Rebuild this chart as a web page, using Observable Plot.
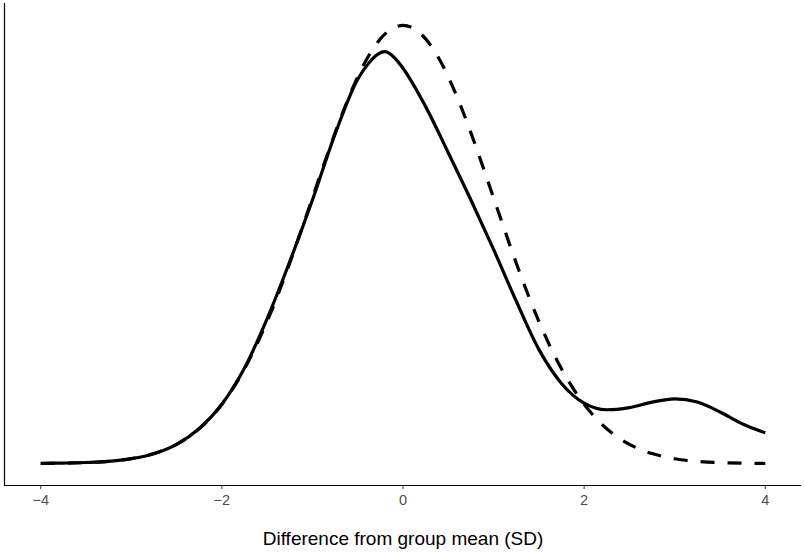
<!DOCTYPE html>
<html>
<head>
<meta charset="utf-8">
<script src="https://cdn.jsdelivr.net/npm/d3@7"></script>
<script src="https://cdn.jsdelivr.net/npm/@observablehq/plot@0.6"></script>
<style>
  html, body { margin: 0; padding: 0; background: #fff; }
  #chart svg { display: block; }
</style>
</head>
<body>
<div id="chart"></div>
<script>
const obsX = [-4.00,-3.75,-3.50,-3.25,-3.00,-2.75,-2.50,-2.25,-2.00,-1.75,-1.50,-1.25,-1.00,-0.75,-0.50,-0.375,-0.25,-0.20,-0.10,0.00,0.25,0.50,0.75,1.00,1.25,1.50,1.75,2.00,2.25,2.50,2.75,3.00,3.25,3.50,3.75,4.00];
const obsY = [0.0002,0.0005,0.001,0.002,0.0045,0.009,0.0175,0.032,0.054,0.087,0.132,0.184,0.240,0.300,0.350,0.365,0.374,0.375,0.370,0.360,0.325,0.283,0.240,0.195,0.148,0.104,0.073,0.055,0.049,0.051,0.056,0.059,0.056,0.047,0.036,0.028];

// Reference (dashed) density
const refX = [-4.00,-3.75,-3.50,-3.25,-3.00,-2.75,-2.50,-2.25,-2.00,-1.75,-1.50,-1.25,-1.00,-0.75,-0.50,-0.25,0.00,0.25,0.50,0.75,1.00,1.25,1.50,1.75,2.00,2.25,2.50,2.75,3.00,3.25,3.50,3.75,4.00];
const refY = [0.0001,0.0004,0.0009,0.002,0.0044,0.0091,0.0175,0.0317,0.054,0.0863,0.1295,0.1827,0.242,0.3011,0.3521,0.3867,0.3989,0.3867,0.3521,0.3011,0.242,0.1827,0.1295,0.0863,0.054,0.0317,0.0175,0.0091,0.0044,0.002,0.0009,0.0004,0.0001];

const xTicks = [-4, -2, 0, 2, 4];
const xTickLabels = ["\u22124", "\u22122", "0", "2", "4"];
const xTitle = "Difference from group mean (SD)";

const obs = obsX.map((x, i) => ({x, y: obsY[i]}));
const ref = refX.map((x, i) => ({x, y: refY[i]}));

const xDomain = [-4.4, 4.4];
const yDomain = [-0.01995, 0.41889];

const chart = Plot.plot({
  width: 804,
  height: 555,
  marginLeft: 4,
  marginRight: 3,
  marginTop: 3,
  marginBottom: 70,
  style: {fontFamily: "'Liberation Sans', Arial, sans-serif", background: "#fff"},
  x: {domain: xDomain, ticks: xTicks},
  y: {domain: yDomain, axis: null},
  marks: [
    Plot.ruleX([xDomain[0]], {stroke: "#000", strokeWidth: 1.2}),
    Plot.ruleY([yDomain[0]], {stroke: "#000", strokeWidth: 1.2}),
    Plot.axisX({
      ticks: xTicks,
      tickFormat: d => xTickLabels[xTicks.indexOf(d)],
      tickSize: 4,
      tickPadding: 5,
      fontSize: 14.5,
      stroke: "#333",
      fill: "#4d4d4d",
      label: null
    }),
    Plot.text([xTitle], {frameAnchor: "bottom", dy: 59, fontSize: 19, fill: "#000"}),
    Plot.line(ref, {x: "x", y: "y", stroke: "#000", strokeWidth: 3.2, strokeDasharray: "14,13", strokeLinecap: "butt", curve: "natural"}),
    Plot.line(obs, {x: "x", y: "y", stroke: "#000", strokeWidth: 3.2, strokeLinecap: "butt", curve: "monotone-x"})
  ]
});
document.getElementById("chart").appendChild(chart);
</script>
</body>
</html>
